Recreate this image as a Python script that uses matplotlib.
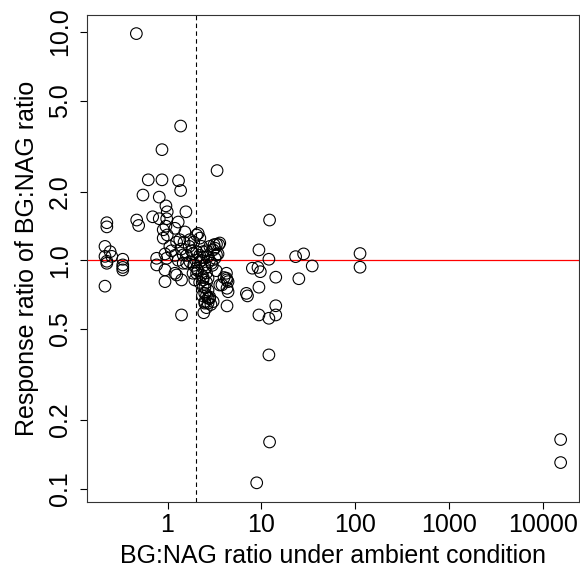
import matplotlib
matplotlib.use("Agg")
import matplotlib.pyplot as plt
from matplotlib.ticker import FixedLocator, NullLocator

plt.rcParams['font.family'] = ['Liberation Sans', 'DejaVu Sans']

# BG:NAG ratio under ambient condition (x) and response ratio (y)
ambient = [
    0.216, 0.226, 0.226, 0.245, 0.255, 0.216, 0.226, 0.334, 0.334, 0.334, 0.216, 0.334, 0.226,
    0.466, 0.470, 0.493, 0.548, 0.624, 0.695, 0.766, 0.766, 0.817, 0.817, 0.873, 0.873,
    0.90, 0.90, 0.94, 0.94, 0.94, 0.962, 0.993, 0.98, 0.962, 0.993, 1.06, 0.98,
    1.20, 1.30, 1.31, 1.38, 1.38, 1.53, 1.57, 1.35, 1.73, 1.47, 1.47, 1.20, 1.25, 1.41, 1.41,
    1.73, 1.87, 1.87, 2.04, 2.12, 2.21, 2.04, 2.04, 2.21, 2.30, 2.39, 2.39, 2.49, 2.49, 2.49,
    2.43, 2.70, 2.70, 2.70, 2.70, 2.94, 3.06, 3.06, 3.13, 3.18, 3.32, 3.37, 3.45, 3.51, 3.60,
    3.60, 4.24, 4.30, 4.41, 4.30, 4.41, 4.30, 4.24,
    2.30, 2.50, 2.60, 2.40, 2.60, 2.50, 2.70, 2.60, 2.80, 2.50, 2.60, 2.90, 2.40, 2.20, 2.00,
    1.90, 1.80, 1.60, 1.70, 1.50, 1.90, 2.30, 2.60, 2.80, 3.00, 3.20, 3.30, 1.60, 1.30, 1.20,
    1.10, 1.40, 1.25, 2.10, 2.20, 2.35, 2.82, 3.32, 2.82, 2.39, 1.95, 2.04, 4.00, 3.80,
    6.91, 7.10, 8.00, 9.18, 9.73, 9.40, 12.0, 12.2, 14.2, 9.40, 9.40, 12.0, 14.2, 14.2,
    12.0, 12.2, 8.9, 23.1, 28.1, 34.7, 25.0, 112, 112, 15300, 15300,
]
response = [
    1.15, 1.46, 1.40, 1.09, 1.04, 1.04, 0.97, 1.01, 0.954, 0.93, 0.77, 0.907, 0.99,
    9.83, 1.50, 1.42, 1.93, 2.25, 1.55, 1.02, 0.954, 1.89, 1.52, 3.05, 2.25,
    1.36, 1.25, 1.066, 0.907, 0.806, 1.73, 1.63, 1.52, 1.41, 1.29, 1.15, 1.02,
    1.38, 1.47, 2.23, 2.02, 3.87, 1.33, 1.63, 1.23, 1.23, 1.055, 0.97, 0.877, 0.862, 0.82, 0.576,
    0.986, 1.07, 0.877, 1.29, 1.31, 1.25, 1.09, 0.923, 0.986, 0.862, 1.09, 0.766, 0.954, 0.716, 0.649,
    0.589, 1.037, 0.834, 0.682, 0.649, 0.97, 1.11, 0.659, 1.17, 1.13, 1.175, 2.47, 1.066, 1.17, 1.19,
    0.779, 0.877, 0.82, 0.806, 0.754, 0.728, 0.631, 0.834,
    1.00, 0.92, 0.88, 0.84, 0.80, 0.76, 0.74, 0.70, 0.68, 0.66, 0.62, 0.64, 1.03, 1.05, 1.00,
    0.95, 1.10, 1.05, 1.15, 1.20, 1.20, 1.15, 1.10, 1.00, 0.95, 1.02, 0.90, 0.97, 1.00, 1.05,
    1.10, 1.12, 1.20, 0.90, 0.80, 0.70, 1.15, 1.055, 0.69, 0.82, 0.82, 0.877, 0.84, 0.78,
    0.716, 0.698, 0.923, 0.93, 0.891, 1.11, 1.01, 1.50, 0.843, 0.762, 0.576, 0.557, 0.632, 0.576,
    0.385, 0.160, 0.106, 1.037, 1.066, 0.944, 0.83, 1.07, 0.932, 0.164, 0.130,
]

x_ticks = [1, 10, 100, 1000, 10000]
x_tick_labels = ["1", "10", "100", "1000", "10000"]
y_ticks = [0.1, 0.2, 0.5, 1.0, 2.0, 5.0, 10.0]
y_tick_labels = ["0.1", "0.2", "0.5", "1.0", "2.0", "5.0", "10.0"]
threshold_x = 2.0
reference_y = 1.0

fig = plt.figure(figsize=(5.8, 5.73), dpi=100)
ax = fig.add_axes([0.15, 0.124, 0.848, 0.850])

ax.scatter(ambient, response, s=70, facecolors='none', edgecolors='black', linewidths=0.8, zorder=3)
ax.axhline(reference_y, color='#FF0000', lw=0.9, zorder=2)
ax.axvline(threshold_x, color='black', lw=0.8, linestyle=(0, (4, 3)), zorder=2)

ax.set_xscale('log')
ax.set_yscale('log')
ax.set_xlim(0.139, 23900)
ax.set_ylim(0.0874, 11.87)

ax.xaxis.set_major_locator(FixedLocator(x_ticks))
ax.xaxis.set_minor_locator(NullLocator())
ax.set_xticklabels(x_tick_labels)
ax.yaxis.set_major_locator(FixedLocator(y_ticks))
ax.yaxis.set_minor_locator(NullLocator())
ax.set_yticklabels(y_tick_labels, rotation=90, va='center')

ax.tick_params(axis='both', direction='out', length=5, width=0.8, labelsize=18, colors='black')
ax.tick_params(axis='x', pad=3)
ax.tick_params(axis='y', pad=6)
for sp in ax.spines.values():
    sp.set_linewidth(0.8)
    sp.set_color('#333333')

ax.set_xlabel("BG:NAG ratio under ambient condition", fontsize=18, labelpad=5)
ax.set_ylabel("Response ratio of BG:NAG ratio", fontsize=18, labelpad=6)

fig.savefig("out.png", dpi=100)
